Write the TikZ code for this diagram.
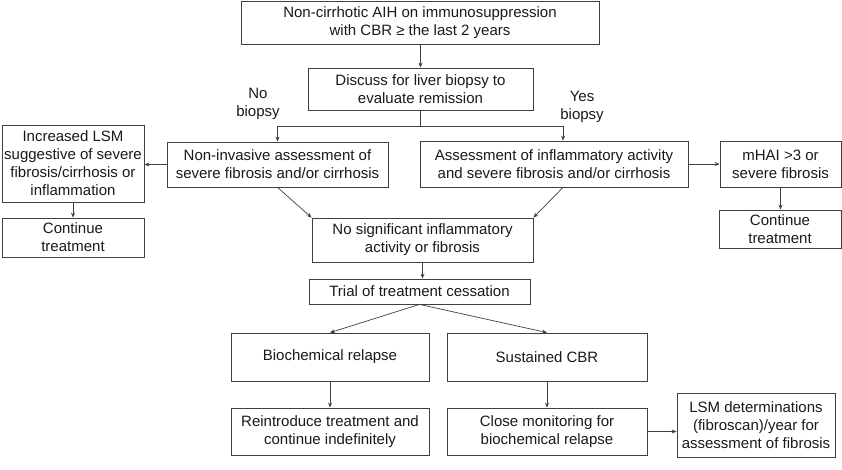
\documentclass[tikz,border=0pt]{standalone}
\usepackage{fontspec}
\setmainfont{Liberation Sans}
\usetikzlibrary{arrows.meta}
\begin{document}
\begin{tikzpicture}[x=1pt,y=-1pt,
  box/.style={draw=black!75,line width=0.8pt,align=center,inner sep=0pt,text=black!90,
    font=\fontsize{15}{18}\selectfont},
  lbl/.style={align=center,inner sep=0pt,text=black!90,font=\fontsize{15}{18}\selectfont},
  arr/.style={draw=black!75,line width=0.7pt,-{Stealth[length=5pt,width=4pt]}},
  ln/.style={draw=black!75,line width=0.7pt}]
\useasboundingbox (0,0) rectangle (842,469);
\node[box,minimum width=358,minimum height=43] (top) at (420,22.5) {Non-cirrhotic AIH on immunosuppression\\with CBR ≥ the last 2 years};
\node[box,minimum width=225,minimum height=42] (discuss) at (420.5,89) {Discuss for liver biopsy to\\evaluate remission};
\node[box,minimum width=221,minimum height=45] (noninv) at (277.5,164.5) {Non-invasive assessment of\\severe fibrosis and/or cirrhosis};
\node[box,minimum width=142,minimum height=77] (lsm) at (73,163.5) {Increased LSM\\suggestive of severe\\fibrosis/cirrhosis or\\inflammation};
\node[box,minimum width=142,minimum height=39] (cont1) at (73,237.5) {Continue\\treatment};
\node[box,minimum width=268,minimum height=46] (assess) at (554,164) {Assessment of inflammatory activity\\and severe fibrosis and/or cirrhosis};
\node[box,minimum width=121,minimum height=46] (mhai) at (780.5,164) {mHAI >3 or\\severe fibrosis};
\node[box,minimum width=122,minimum height=38] (cont2) at (780,229) {Continue\\treatment};
\node[box,minimum width=221,minimum height=44] (nosig) at (422.5,240) {No significant inflammatory\\activity or fibrosis};
\node[box,minimum width=221,minimum height=25] (trial) at (419.5,291.5) {Trial of treatment cessation};
\node[box,minimum width=198,minimum height=48] (bio) at (330,357) {Biochemical relapse};
\node[box,minimum width=200,minimum height=48] (sust) at (547,357) {Sustained CBR};
\node[box,minimum width=198,minimum height=47] (reint) at (330,431.5) {Reintroduce treatment and\\continue indefinitely};
\node[box,minimum width=200,minimum height=47] (close) at (547,431.5) {Close monitoring for\\biochemical relapse};
\node[box,minimum width=158,minimum height=64] (lsmdet) at (756,425) {LSM determinations\\(fibroscan)/year for\\assessment of fibrosis};
\node[lbl] (nolbl) at (258,104) {No\\biopsy};
\node[lbl] (yeslbl) at (582,107) {Yes\\biopsy};
\coordinate (j) at (420.5,126);
\draw[arr] (top.south -| discuss.north) -- (discuss.north);
\draw[ln] (discuss.south) -- (j);
\draw[arr] (j) -| (noninv.north);
\draw[arr] (j) -| ([xshift=9pt]assess.north);
\draw[arr] (noninv.west) -- (lsm.east |- noninv.west);
\draw[arr] (lsm.south) -- (cont1.north);
\draw[arr] (assess.east) -- (mhai.west |- assess.east);
\draw[arr] (mhai.south) -- (cont2.north -| mhai.south);
\draw[arr] (noninv.south) -- (nosig.north west);
\draw[arr] ([xshift=9pt]assess.south) -- (nosig.north east);
\draw[arr] (nosig.south) -- (nosig.south |- trial.north);
\draw[arr] (trial.south) -- (bio.north);
\draw[arr] (trial.south) -- (sust.north);
\draw[arr] (bio.south) -- (reint.north);
\draw[arr] (sust.south) -- (close.north);
\draw[arr] (close.east) -- (lsmdet.west |- close.east);
\end{tikzpicture}
\end{document}
